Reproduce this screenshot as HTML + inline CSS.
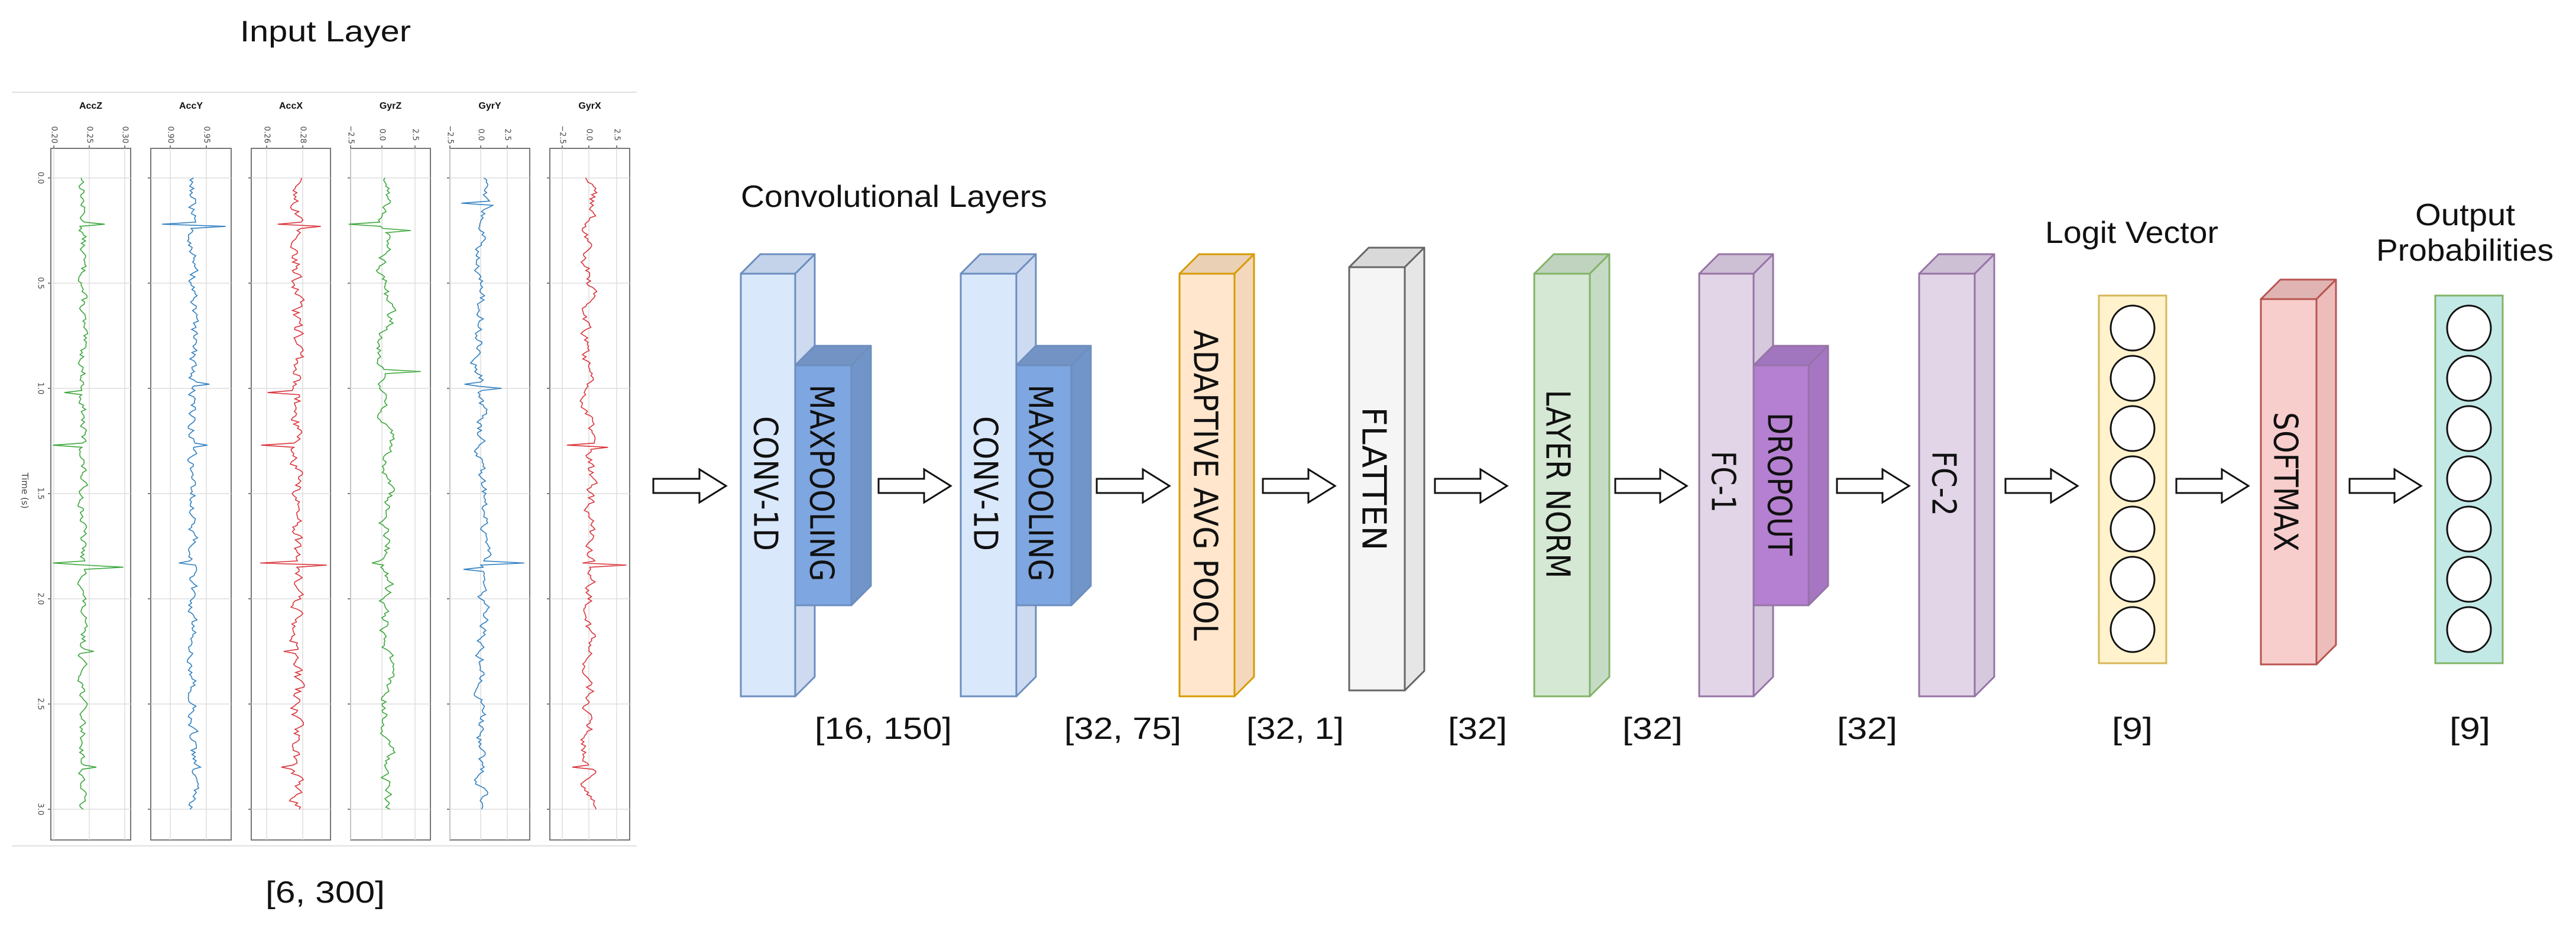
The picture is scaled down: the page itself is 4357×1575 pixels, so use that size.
<!DOCTYPE html>
<html><head><meta charset="utf-8"><style>
html,body{margin:0;padding:0;background:#fff;}
svg{display:block;}
text{font-family:"DejaVu Sans","Liberation Sans",sans-serif;fill:#111;}
.lbl{font-family:"Liberation Sans",sans-serif;font-size:52px;}
.box{font-family:"DejaVu Sans",sans-serif;font-size:56px;}
.tt{font-family:"Liberation Sans",sans-serif;font-weight:bold;font-size:16px;}
.tk{font-family:"DejaVu Sans",sans-serif;font-size:13px;fill:#444;}
</style></head><body>
<svg id="s" width="4357" height="1575" viewBox="0 0 4357 1575" xmlns="http://www.w3.org/2000/svg">
<rect width="4357" height="1575" fill="#fff"/>
<g id="plots"></g>
<text class="lbl" x="406" y="70" textLength="289" lengthAdjust="spacingAndGlyphs" style="font-size:50px">Input Layer</text>
<text class="lbl" x="449" y="1527" textLength="202" lengthAdjust="spacingAndGlyphs" style="font-size:52px">[6, 300]</text>
<text class="lbl" x="1253" y="350" textLength="518" lengthAdjust="spacingAndGlyphs">Convolutional Layers</text>
<text class="lbl" x="3459" y="411" textLength="293" lengthAdjust="spacingAndGlyphs">Logit Vector</text>
<text class="lbl" x="4085" y="381" textLength="169" lengthAdjust="spacingAndGlyphs">Output</text>
<text class="lbl" x="4019" y="441" textLength="300" lengthAdjust="spacingAndGlyphs">Probabilities</text>
<text class="lbl" x="1378" y="1250" textLength="232" lengthAdjust="spacingAndGlyphs">[16, 150]</text>
<text class="lbl" x="1800" y="1250" textLength="198" lengthAdjust="spacingAndGlyphs">[32, 75]</text>
<text class="lbl" x="2108" y="1250" textLength="165" lengthAdjust="spacingAndGlyphs">[32, 1]</text>
<text class="lbl" x="2449" y="1250" textLength="100" lengthAdjust="spacingAndGlyphs">[32]</text>
<text class="lbl" x="2744" y="1250" textLength="102" lengthAdjust="spacingAndGlyphs">[32]</text>
<text class="lbl" x="3107" y="1250" textLength="102" lengthAdjust="spacingAndGlyphs">[32]</text>
<text class="lbl" x="3572" y="1250" textLength="69" lengthAdjust="spacingAndGlyphs">[9]</text>
<text class="lbl" x="4143" y="1250" textLength="69" lengthAdjust="spacingAndGlyphs">[9]</text>
<g id="net"></g>
</svg>
<script>
var NS="http://www.w3.org/2000/svg";
function el(p,n,a,t){var e=document.createElementNS(NS,n);for(var k in a)e.setAttribute(k,a[k]);if(t!==undefined)e.textContent=t;p.appendChild(e);return e;}
var net=document.getElementById('net'),plots=document.getElementById('plots');
var D=33;
function box(x1,y1,x2,y2,front,side,top,stroke){
 el(net,'polygon',{points:[x1,y1,x1+D,y1-D,x2+D,y1-D,x2,y1].join(' '),fill:top,stroke:stroke,'stroke-width':3,'stroke-linejoin':'round'});
 el(net,'polygon',{points:[x2,y1,x2+D,y1-D,x2+D,y2-D,x2,y2].join(' '),fill:side,stroke:stroke,'stroke-width':3,'stroke-linejoin':'round'});
 el(net,'rect',{x:x1,y:y1,width:x2-x1,height:y2-y1,fill:front,stroke:stroke,'stroke-width':3});
}
function vt(cx,cy,len,s){el(net,'text',{class:'box',x:cx,y:cy,'text-anchor':'middle','dominant-baseline':'central',transform:'rotate(90 '+cx+' '+cy+')',textLength:len,lengthAdjust:'spacingAndGlyphs'},s);}
function arrow(x0,x1,cy){var hl=45,sh=12,hh=28,xm=x1-hl;
 el(net,'polygon',{points:[x0,cy-sh,xm,cy-sh,xm,cy-hh,x1,cy,xm,cy+hh,xm,cy+sh,x0,cy+sh].join(' '),fill:'#fff',stroke:'#111','stroke-width':3});}
// conv1 + maxpool1
box(1253,463,1345,1178,'#dae8fc','#cddaf0','#c5d3ea','#6c8ebf');vt(1294,818,228,'CONV-1D');
box(1345,618,1440,1024,'#7ea6e0','#7195c9','#7393c4','#6c8ebf');vt(1389,817,333,'MAXPOOLING');
box(1625,463,1719,1178,'#dae8fc','#cddaf0','#c5d3ea','#6c8ebf');vt(1666,818,228,'CONV-1D');
box(1719,618,1812,1024,'#7ea6e0','#7195c9','#7393c4','#6c8ebf');vt(1759,817,333,'MAXPOOLING');
box(1995,463,2088,1178,'#ffe6cc','#f3d8bd','#ead0b4','#d79b00');vt(2038,821,526,'ADAPTIVE AVG POOL');
box(2282,452,2376,1168,'#f5f5f5','#e6e6e6','#d9d9d9','#666666');vt(2323,810,243,'FLATTEN');
box(2595,463,2689,1178,'#d5e8d4','#c6dbc5','#bfd3be','#82b366');vt(2634,819,319,'LAYER NORM');
box(2874,463,2966,1178,'#e1d5e7','#d6c8dd','#cdbfd4','#9673a6');vt(2914,815,104,'FC-1');
box(2966,618,3059,1024,'#b580d1','#a676c2','#a275bf','#9673a6');vt(3009,819,242,'DROPOUT');
box(3246,463,3340,1178,'#e1d5e7','#d6c8dd','#cdbfd4','#9673a6');vt(3287,818,110,'FC-2');
box(3824,506,3918,1124,'#f8cecc','#ecbdbb','#e0b4b3','#b85450');vt(3865,815,236,'SOFTMAX');
// vectors
el(net,'rect',{x:3550,y:500,width:114,height:622,fill:'#fff2cc',stroke:'#d6b656','stroke-width':3});
el(net,'rect',{x:4119,y:500,width:114,height:622,fill:'#c2e9e5',stroke:'#82b366','stroke-width':3});
var cys=[555,640,725,810,895,980,1065];
cys.forEach(function(c){el(net,'ellipse',{cx:3607,cy:c,rx:37,ry:38,fill:'#fff',stroke:'#111','stroke-width':3});el(net,'ellipse',{cx:4176,cy:c,rx:37,ry:38,fill:'#fff',stroke:'#111','stroke-width':3});});
[[1105,1228],[1486,1608],[1855,1978],[2136,2258],[2427,2549],[2732,2853],[3107,3229],[3392,3514],[3681,3803],[3974,4095]].forEach(function(a){arrow(a[0],a[1],822);});
// plots
el(plots,'line',{x1:20,y1:156,x2:1077,y2:156,stroke:'#e0e0e0','stroke-width':2});
el(plots,'line',{x1:20,y1:1431,x2:1077,y2:1431,stroke:'#e0e0e0','stroke-width':2});
var P=[
 {n:'AccZ',x1:86,x2:221,cx:140,c:'#3aa63a',tk:[[91,'0.20'],[151,'0.25'],[211,'0.30']],a:12,sp:[[22,40],[102,-35],[127,-50],[183,-50],[185,70],[225,22],[280,18]]},
 {n:'AccY',x1:255,x2:391,cx:326,c:'#2f7fc1',tk:[[288,'0.90'],[349,'0.95']],a:14,sp:[[22,-60],[23,55],[98,30],[127,18],[183,-25],[280,15]]},
 {n:'AccX',x1:425,x2:559,cx:502,c:'#d9333a',tk:[[451,'0.26'],[512,'0.28']],a:18,sp:[[22,-40],[23,40],[102,-45],[127,-55],[183,-60],[184,50],[225,-25],[280,-20]]},
 {n:'GyrZ',x1:593,x2:728,cx:653,c:'#3aa63a',tk:[[593,'\u22122.5'],[646,'0.0'],[702,'2.5']],a:26,sp:[[22,-55],[25,40],[92,60],[183,-20]],smooth:0.85},
 {n:'GyrY',x1:761,x2:896,cx:815,c:'#2f7fc1',tk:[[761,'\u22122.5'],[813,'0.0'],[858,'2.5']],a:22,sp:[[12,-50],[100,40],[98,-30],[183,70],[186,-35]],smooth:0.8},
 {n:'GyrX',x1:930,x2:1065,cx:996,c:'#d9333a',tk:[[951,'\u22122.5'],[996,'0.0'],[1043,'2.5']],a:22,sp:[[127,-45],[128,30],[183,-25],[184,60],[280,-35]],smooth:0.7}
];
var Y0=301,DT=356;
P.forEach(function(p,k){
 var g=plots;
 el(g,'rect',{x:p.x1,y:251,width:p.x2-p.x1,height:1170,fill:'#fff',stroke:'#777','stroke-width':2});
 for(var t=0;t<=6;t++){var y=Y0+t*DT/2;el(g,'line',{x1:p.x1,y1:y,x2:p.x2,y2:y,stroke:'#ddd','stroke-width':1.5});el(g,'line',{x1:p.x1-5,y1:y,x2:p.x1,y2:y,stroke:'#555','stroke-width':1.5});}
 p.tk.forEach(function(t){el(g,'line',{x1:t[0],y1:251,x2:t[0],y2:1421,stroke:'#ddd','stroke-width':1.5});el(g,'line',{x1:t[0],y1:246,x2:t[0],y2:251,stroke:'#555','stroke-width':1.5});
  el(g,'text',{class:'tk',x:t[0],y:228,'text-anchor':'middle','dominant-baseline':'central',transform:'rotate(90 '+t[0]+' 228)'},t[1]);});
 el(g,'text',{class:'tt',x:(p.x1+p.x2)/2,y:184,'text-anchor':'middle'},p.n);
 var seed=k*977+13;function r(){seed=(seed*1664525+1013904223)>>>0;return seed/4294967296;}
 var v=0,sm=p.smooth||0.5,pts=[];
 for(var i=0;i<=300;i++){v=sm*v+(r()-0.5)*p.a*(1-sm+0.4);var x=p.cx+v;
  p.sp.forEach(function(s){if(i===s[0])x+=s[1];});
  pts.push(x.toFixed(1)+','+(Y0+i*DT/100).toFixed(1));}
 el(g,'polyline',{points:pts.join(' '),fill:'none',stroke:p.c,'stroke-width':1.6});
});
['0.0','0.5','1.0','1.5','2.0','2.5','3.0'].forEach(function(s,i){var y=Y0+i*DT/2;el(plots,'text',{class:'tk',x:68,y:y,'text-anchor':'middle','dominant-baseline':'central',transform:'rotate(90 68 '+y+')'},s);});
el(plots,'text',{class:'tk',x:42,y:830,'text-anchor':'middle','dominant-baseline':'central',transform:'rotate(90 42 830)',style:'font-size:15px'},'Time (s)');
</script>
</body></html>
